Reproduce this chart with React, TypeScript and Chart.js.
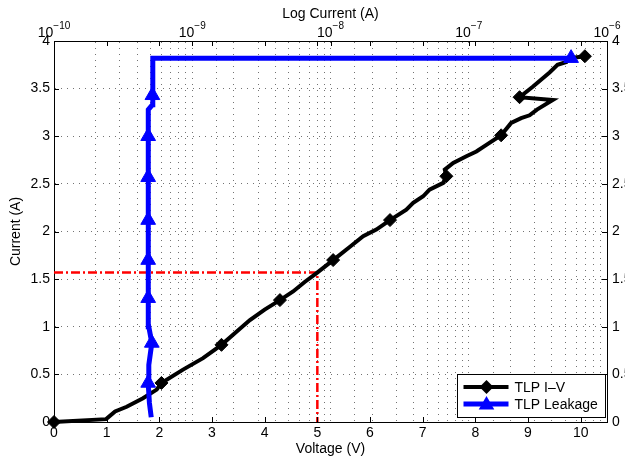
import React, { useEffect, useRef } from 'react';
import { Chart, registerables } from 'chart.js';

Chart.register(...registerables);

// ---------------- data ----------------
// TLP I-V curve (bottom axis: Voltage, left axis: Current)
const ivVoltage = [0, 0.99, 1.16, 1.38, 1.69, 1.95, 2.04, 2.45, 2.83, 3.18, 3.47, 3.72, 4.0, 4.29, 4.54, 4.76, 4.98, 5.3, 5.62, 5.87, 6.12, 6.38, 6.69, 6.82, 7.01, 7.13, 7.39, 7.45, 7.42, 7.58, 7.83, 8.02, 8.21, 8.49, 8.68, 8.87, 9.03, 9.17, 9.47, 8.84, 9.09, 9.41, 9.56, 9.73, 9.79, 10.08];
const ivCurrent = [0, 0.03, 0.11, 0.16, 0.25, 0.34, 0.41, 0.55, 0.67, 0.81, 0.95, 1.07, 1.18, 1.28, 1.37, 1.47, 1.56, 1.7, 1.84, 1.95, 2.02, 2.12, 2.23, 2.3, 2.37, 2.44, 2.51, 2.58, 2.65, 2.72, 2.79, 2.84, 2.91, 3.01, 3.14, 3.19, 3.22, 3.28, 3.38, 3.41, 3.52, 3.67, 3.75, 3.78, 3.82, 3.84];
const ivMarkerIdx = [0, 6, 9, 13, 17, 21, 27, 33, 39, 45];

// TLP leakage (top axis: Log Current, left axis: Current)
const leakCurrent = [5.05e-10, 4.9e-10, 4.8e-10, 4.85e-10, 5.1e-10, 4.85e-10, 4.8e-10, 4.8e-10, 4.8e-10, 4.8e-10, 4.8e-10, 4.85e-10, 5.15e-10, 5.15e-10, 5.2e-10, 5.2e-10, 5.5e-7];
const leakI = [0.05, 0.2, 0.41, 0.6, 0.83, 1.0, 1.3, 1.7, 2.12, 2.57, 3.0, 3.28, 3.33, 3.43, 3.6, 3.82, 3.82];
const leakMarkerIdx = [2, 4, 6, 7, 8, 9, 10, 13, 16];

// reference dash-dot guide
const refVoltage = [0, 5, 5];
const refCurrent = [1.57, 1.57, 0];

const voltageTicks = [0, 1, 2, 3, 4, 5, 6, 7, 8, 9, 10];
const currentTicks = [0, 0.5, 1, 1.5, 2, 2.5, 3, 3.5, 4];
const logDecades = [-10, -9, -8, -7, -6];

const seriesLabels = ['TLP I\u2013V', 'TLP Leakage'];

// ---------------- layout/style ----------------
const W = 650;
const H = 459;
const FONT = '"Liberation Sans", Arial, Helvetica, sans-serif';
const GRID = 'rgba(0,0,0,0.55)';
const DOTS = [1, 5];
const FS = 14;

const inwardTicks = {
  id: 'inwardTicks',
  afterDatasetsDraw(chart: any) {
    const { ctx, chartArea: ca, scales } = chart;
    const sx = scales.x, sy = scales.y, s2 = scales.x2;
    ctx.save();
    ctx.strokeStyle = '#000';
    ctx.lineWidth = 1;
    ctx.beginPath();
    voltageTicks.forEach((v) => {
      const px = Math.round(sx.getPixelForValue(v)) + 0.5;
      ctx.moveTo(px, ca.bottom); ctx.lineTo(px, ca.bottom - 5);
      ctx.moveTo(px, ca.top); ctx.lineTo(px, ca.top + 5);
    });
    logDecades.forEach((d) => {
      const px = Math.round(s2.getPixelForValue(Math.pow(10, d))) + 0.5;
      ctx.moveTo(px, ca.top); ctx.lineTo(px, ca.top + 5);
    });
    currentTicks.forEach((c) => {
      const py = Math.round(sy.getPixelForValue(c)) + 0.5;
      ctx.moveTo(ca.left, py); ctx.lineTo(ca.left + 5, py);
      ctx.moveTo(ca.right, py); ctx.lineTo(ca.right - 5, py);
    });
    ctx.stroke();
    ctx.restore();
  },
};

const topLogLabels = {
  id: 'topLogLabels',
  afterDraw(chart: any) {
    const { ctx, scales } = chart;
    const s2 = scales.x2;
    ctx.save();
    ctx.fillStyle = '#000';
    ctx.textBaseline = 'alphabetic';
    ctx.textAlign = 'left';
    logDecades.forEach((d) => {
      const x = s2.getPixelForValue(Math.pow(10, d));
      const base = '10';
      const exp = '\u2212' + Math.abs(d);
      ctx.font = `${FS}px ${FONT}`;
      const w1 = ctx.measureText(base).width;
      ctx.font = `10px ${FONT}`;
      const w2 = ctx.measureText(exp).width;
      const start = x - (w1 + w2) / 2;
      ctx.font = `${FS}px ${FONT}`;
      ctx.fillText(base, start, 37);
      ctx.font = `10px ${FONT}`;
      ctx.fillText(exp, start + w1, 29);
    });
    ctx.restore();
  },
};

function drawDiamond(ctx: CanvasRenderingContext2D, x: number, y: number, r: number) {
  ctx.beginPath();
  ctx.moveTo(x - r, y); ctx.lineTo(x, y - r); ctx.lineTo(x + r, y); ctx.lineTo(x, y + r);
  ctx.closePath();
  ctx.fill();
}
function drawTriangle(ctx: CanvasRenderingContext2D, x: number, y: number, r: number) {
  ctx.beginPath();
  ctx.moveTo(x, y - r);
  ctx.lineTo(x + r * Math.sin((2 * Math.PI) / 3), y + r / 2);
  ctx.lineTo(x - r * Math.sin((2 * Math.PI) / 3), y + r / 2);
  ctx.closePath();
  ctx.fill();
}

const boxLegend = {
  id: 'boxLegend',
  afterDraw(chart: any) {
    const { ctx, chartArea: ca } = chart;
    const bx = Math.round(ca.right - 150) + 0.5;
    const by = Math.round(ca.bottom - 48) + 0.5;
    const bw = 148, bh = 43;
    ctx.save();
    ctx.fillStyle = '#fff';
    ctx.fillRect(bx, by, bw, bh);
    ctx.strokeStyle = '#000';
    ctx.lineWidth = 1;
    ctx.strokeRect(bx, by, bw, bh);
    const rows = [
      { label: seriesLabels[0], color: '#000', lw: 4, y: by + 12.5, marker: 'd' },
      { label: seriesLabels[1], color: '#0000ff', lw: 5, y: by + 29.5, marker: 't' },
    ];
    rows.forEach((r) => {
      ctx.strokeStyle = r.color;
      ctx.fillStyle = r.color;
      ctx.lineWidth = r.lw;
      ctx.beginPath();
      ctx.moveTo(bx + 6, r.y); ctx.lineTo(bx + 51, r.y);
      ctx.stroke();
      if (r.marker === 'd') drawDiamond(ctx, bx + 29, r.y, 7);
      else drawTriangle(ctx, bx + 29, r.y + 1, 9);
      ctx.fillStyle = '#000';
      ctx.font = `${FS}px ${FONT}`;
      ctx.textBaseline = 'middle';
      ctx.textAlign = 'left';
      ctx.fillText(r.label, bx + 57, r.y + 1);
    });
    ctx.restore();
  },
};

export default function App() {
  const ref = useRef<HTMLCanvasElement | null>(null);

  useEffect(() => {
    if (!ref.current) return;
    Chart.defaults.font.family = FONT;
    Chart.defaults.color = '#000';

    const ivData = ivVoltage.map((v, i) => ({ x: v, y: ivCurrent[i] }));
    const leakData = leakCurrent.map((c, i) => ({ x: c, y: leakI[i] }));
    const refData = refVoltage.map((v, i) => ({ x: v, y: refCurrent[i] }));
    const ivRadius = ivVoltage.map((_, i) => (ivMarkerIdx.includes(i) ? 6.5 : 0));
    const leakRadius = leakCurrent.map((_, i) => (leakMarkerIdx.includes(i) ? 8.5 : 0));

    const tickFont = { family: FONT, size: FS };
    const plain = (v: any) => String(Number(v));

    const chart = new Chart(ref.current, {
      type: 'scatter',
      data: {
        datasets: [
          {
            label: seriesLabels[1],
            data: leakData,
            xAxisID: 'x2',
            yAxisID: 'y',
            showLine: true,
            borderColor: '#0000ff',
            backgroundColor: '#0000ff',
            borderWidth: 5,
            pointStyle: 'triangle',
            pointRadius: leakRadius,
            pointBorderWidth: 1,
            pointBorderColor: '#0000ff',
            pointBackgroundColor: '#0000ff',
            tension: 0,
            clip: false as any,
            order: 0,
          },
          {
            label: seriesLabels[0],
            data: ivData,
            xAxisID: 'x',
            yAxisID: 'y',
            showLine: true,
            borderColor: '#000',
            backgroundColor: '#000',
            borderWidth: 4,
            pointStyle: 'rectRot',
            pointRadius: ivRadius,
            pointBorderWidth: 1,
            pointBorderColor: '#000',
            pointBackgroundColor: '#000',
            tension: 0,
            clip: false as any,
            order: 1,
          },
          {
            label: 'ref',
            data: refData,
            xAxisID: 'x',
            yAxisID: 'y',
            showLine: true,
            borderColor: '#ff0000',
            borderWidth: 2.5,
            borderDash: [9, 3, 2, 3],
            pointRadius: 0,
            tension: 0,
            order: 2,
          },
        ],
      },
      options: {
        animation: false,
        responsive: false,
        devicePixelRatio: 1,
        layout: { padding: 0 },
        plugins: {
          legend: { display: false },
          tooltip: { enabled: false },
          title: { display: false },
        },
        scales: {
          x: {
            type: 'linear',
            position: 'bottom',
            min: 0,
            max: 10.5,
            ticks: { stepSize: 1, includeBounds: false, padding: 3, color: '#000', font: tickFont, maxRotation: 0, autoSkip: false, callback: plain },
            grid: { display: false, drawTicks: false },
            border: { display: true, color: '#000', width: 1 },
            title: { display: true, text: 'Voltage (V)', color: '#000', font: tickFont, padding: { top: 0, bottom: 1 } },
            afterFit: (s: any) => { s.height = 37; },
          },
          x2: {
            type: 'logarithmic',
            position: 'top',
            min: 1e-10,
            max: 1e-6,
            ticks: { display: false, autoSkip: false },
            grid: { display: true, color: GRID, lineWidth: 1, drawTicks: false },
            border: { display: true, color: '#000', width: 1, dash: DOTS },
            title: { display: true, text: 'Log Current (A)', color: '#000', font: tickFont, padding: { top: 6, bottom: 0 } },
            afterFit: (s: any) => { s.height = 41; },
          },
          y: {
            type: 'linear',
            position: 'left',
            min: 0,
            max: 4,
            ticks: { stepSize: 0.5, padding: 4, color: '#000', font: tickFont, callback: plain },
            grid: { display: true, color: GRID, lineWidth: 1, drawTicks: false },
            border: { display: true, color: '#000', width: 1, dash: DOTS },
            title: { display: true, text: 'Current (A)', color: '#000', font: tickFont, padding: { top: 8, bottom: 0 } },
            afterFit: (s: any) => { s.width = 54; },
          },
          yR: {
            type: 'linear',
            position: 'right',
            min: 0,
            max: 4,
            ticks: { stepSize: 0.5, padding: 5, color: '#000', font: tickFont, callback: plain },
            grid: { display: false, drawTicks: false },
            border: { display: true, color: '#000', width: 1 },
            afterFit: (s: any) => { s.width = W - 607; },
          },
        },
      } as any,
      plugins: [inwardTicks, topLogLabels, boxLegend],
    });

    return () => chart.destroy();
  }, []);

  return (
    <div style={{ position: 'fixed', left: 0, top: 0, width: 625, height: 459, overflow: 'hidden', background: '#fff' }}>
      <canvas ref={ref} width={W} height={H} style={{ display: 'block', width: W, height: H }} />
    </div>
  );
}
